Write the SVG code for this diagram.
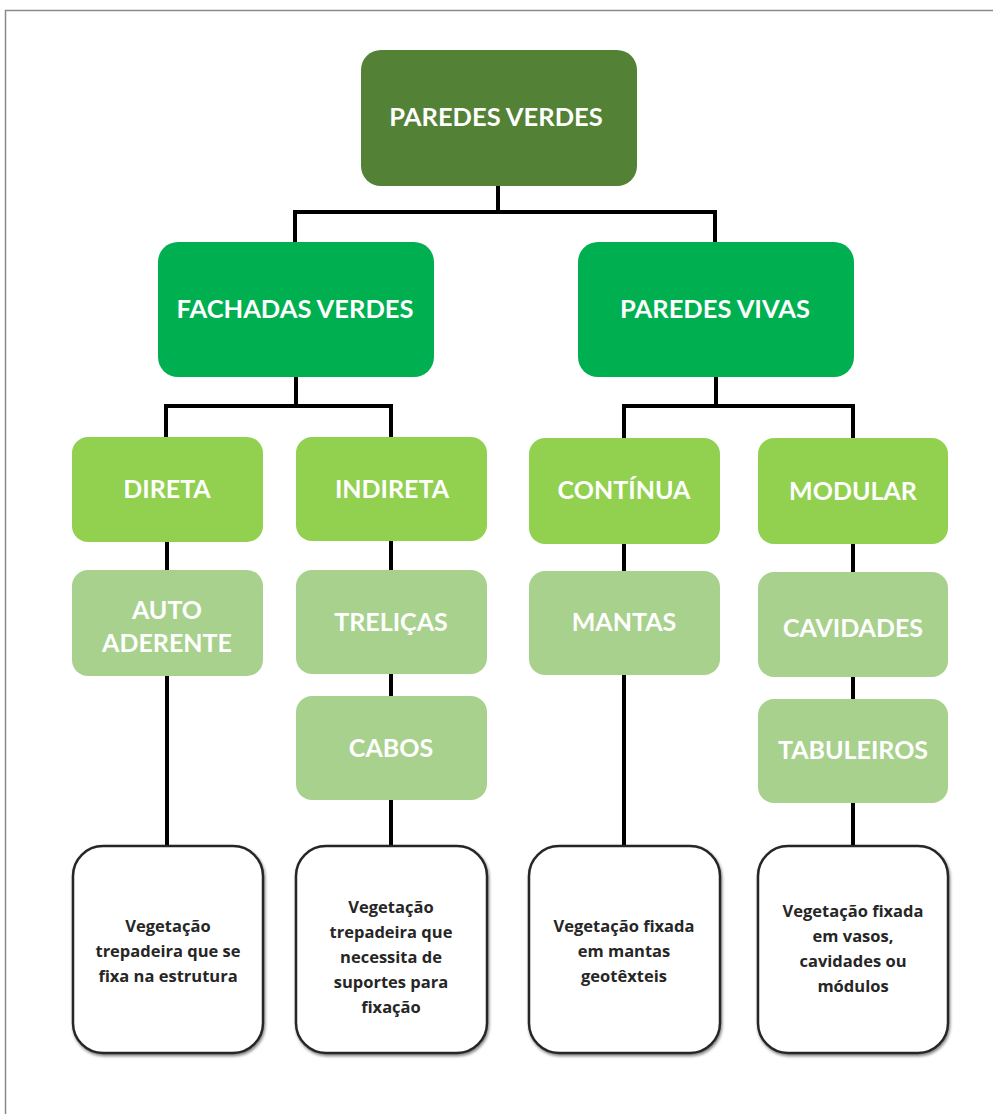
<svg xmlns="http://www.w3.org/2000/svg" width="993" height="1114" viewBox="0 0 993 1114">
<defs>
<style>
.lvl0{fill:#538135}
.lvl1{fill:#00B050}
.lvl2{fill:#92D050}
.lvl3{fill:#A9D18E}
.desc{fill:#ffffff;stroke:#262626;stroke-width:2.5}
.t{font-family:Lato,"Open Sans",sans-serif;font-weight:bold;fill:#ffffff;text-anchor:middle}
.big{font-size:25.5px}
.mid{font-size:25px}
.d{font-family:"Open Sans",Lato,sans-serif;font-weight:bold;fill:#262626;text-anchor:middle;font-size:16.5px}
.conn{fill:none;stroke:#000000;stroke-width:4;stroke-linejoin:miter}
</style>
<filter id="sh" x="-10%" y="-10%" width="120%" height="120%">
<feGaussianBlur in="SourceAlpha" stdDeviation="1.5"/>
<feOffset dx="1" dy="2" result="b"/>
<feComponentTransfer><feFuncA type="linear" slope="0.5"/></feComponentTransfer>
<feMerge><feMergeNode/><feMergeNode in="SourceGraphic"/></feMerge>
</filter>
</defs>
<rect x="0" y="0" width="993" height="1114" fill="#ffffff"/>
<path d="M5.5,1114 V10.5 H993" fill="none" stroke="#8a8a8a" stroke-width="1.5"/>

<g id="connectors">
<path class="conn" d="M498,186 V212 M295,244 V212 H715 V244"/>
<path class="conn" d="M296,377 V406 M166,439 V406 H391 V439"/>
<path class="conn" d="M716,377 V406 M624,439 V406 H853 V439"/>
<path class="conn" d="M167,542 V570 M167,676 V846"/>
<path class="conn" d="M391,541 V570 M391,674 V696 M391,800 V846"/>
<path class="conn" d="M624,544 V571 M624,675 V846"/>
<path class="conn" d="M853,544 V572 M853,677 V699 M853,803 V846"/>
</g>

<g id="paredes-verdes">
<rect class="lvl0" x="361" y="50" width="276" height="136" rx="20"/>
<text class="t big" x="496" y="126">PAREDES VERDES</text>
</g>
<g id="fachadas-verdes">
<rect class="lvl1" x="158" y="242" width="276" height="135" rx="20"/>
<text class="t big" x="295" y="318">FACHADAS VERDES</text>
</g>
<g id="paredes-vivas">
<rect class="lvl1" x="578" y="242" width="276" height="135" rx="20"/>
<text class="t big" x="715" y="318">PAREDES VIVAS</text>
</g>

<g id="direta">
<rect class="lvl2" x="72" y="437" width="191" height="105" rx="16"/>
<text class="t mid" x="167" y="498">DIRETA</text>
</g>
<g id="indireta">
<rect class="lvl2" x="296" y="437" width="191" height="104" rx="16"/>
<text class="t mid" x="392" y="498">INDIRETA</text>
</g>
<g id="continua">
<rect class="lvl2" x="529" y="438" width="191" height="106" rx="16"/>
<text class="t mid" x="624" y="499">CONTÍNUA</text>
</g>
<g id="modular">
<rect class="lvl2" x="758" y="438" width="190" height="106" rx="16"/>
<text class="t mid" x="853" y="500">MODULAR</text>
</g>

<g id="auto-aderente">
<rect class="lvl3" x="72" y="570" width="191" height="106" rx="16"/>
<text class="t mid" x="167" y="619">AUTO</text>
<text class="t mid" x="167" y="652">ADERENTE</text>
</g>
<g id="trelicas">
<rect class="lvl3" x="296" y="570" width="191" height="104" rx="16"/>
<text class="t mid" x="391" y="631">TRELIÇAS</text>
</g>
<g id="cabos">
<rect class="lvl3" x="296" y="696" width="191" height="104" rx="16"/>
<text class="t mid" x="391" y="757">CABOS</text>
</g>
<g id="mantas">
<rect class="lvl3" x="529" y="571" width="191" height="104" rx="16"/>
<text class="t mid" x="624" y="631">MANTAS</text>
</g>
<g id="cavidades">
<rect class="lvl3" x="758" y="572" width="190" height="105" rx="16"/>
<text class="t mid" x="853" y="637">CAVIDADES</text>
</g>
<g id="tabuleiros">
<rect class="lvl3" x="758" y="699" width="190" height="104" rx="16"/>
<text class="t mid" x="853" y="759">TABULEIROS</text>
</g>

<g id="desc-direta">
<rect class="desc" filter="url(#sh)" x="73" y="846" width="190" height="207" rx="30"/>
<text class="d" x="168" y="932">Vegetação</text>
<text class="d" x="168" y="957">trepadeira que se</text>
<text class="d" x="168" y="982">fixa na estrutura</text>
</g>
<g id="desc-indireta">
<rect class="desc" filter="url(#sh)" x="296" y="846" width="191" height="207" rx="30"/>
<text class="d" x="391" y="913">Vegetação</text>
<text class="d" x="391" y="938">trepadeira que</text>
<text class="d" x="391" y="963">necessita de</text>
<text class="d" x="391" y="988">suportes para</text>
<text class="d" x="391" y="1013">fixação</text>
</g>
<g id="desc-continua">
<rect class="desc" filter="url(#sh)" x="529" y="846" width="191" height="207" rx="30"/>
<text class="d" x="624" y="932">Vegetação fixada</text>
<text class="d" x="624" y="957">em mantas</text>
<text class="d" x="624" y="982">geotêxteis</text>
</g>
<g id="desc-modular">
<rect class="desc" filter="url(#sh)" x="758" y="846" width="190" height="207" rx="30"/>
<text class="d" x="853" y="917">Vegetação fixada</text>
<text class="d" x="853" y="942">em vasos,</text>
<text class="d" x="853" y="967">cavidades ou</text>
<text class="d" x="853" y="992">módulos</text>
</g>
</svg>
